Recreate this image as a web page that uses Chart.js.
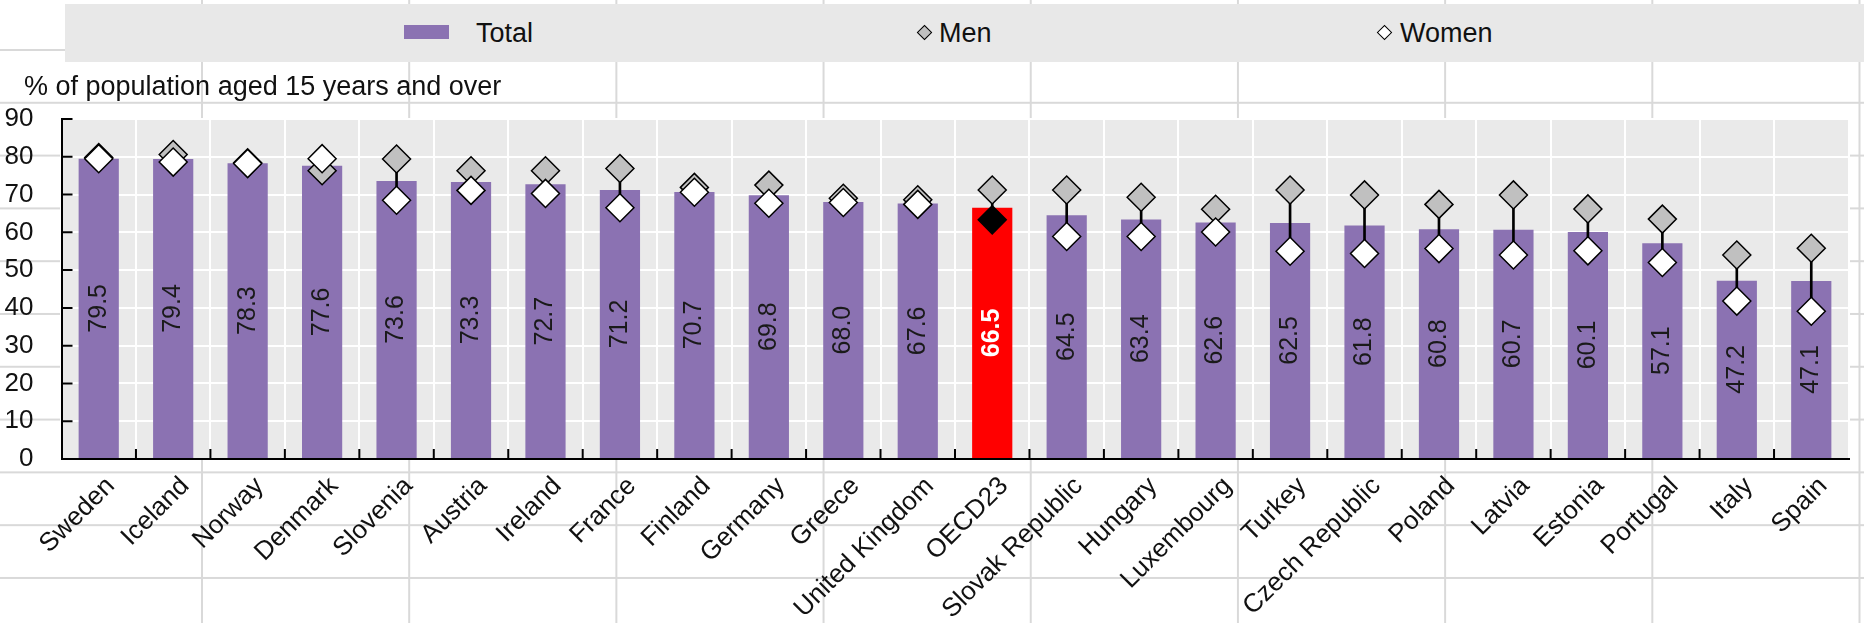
<!DOCTYPE html>
<html>
<head>
<meta charset="utf-8">
<script src="https://cdn.jsdelivr.net/npm/chart.js@4.4.1/dist/chart.umd.min.js"></script>
<style>
  body { margin: 0; background: #fff; }
  #wrap {
    position: relative; width: 1864px; height: 623px; overflow: hidden;
    font-family: 'Liberation Sans', Arial, sans-serif;
    background-image: linear-gradient(to right, #d9d9d9 2px, transparent 2px),
                      linear-gradient(to bottom, #d9d9d9 2px, transparent 2px);
    background-size: 207.2px 100%, 100% 52.8px;
    background-position: 201px 0, 0 49px;
  }
  #chart { position: absolute; left: 0; top: 0; }
  #legend { position: absolute; left: 65px; top: 4px; width: 1799px; height: 58px; background: #e8e8e8; }
  .item { position: absolute; top: 13px; font-size: 27px; line-height: 32px; color: #111; }
  .swatch { position: absolute; top: 21px; width: 45px; height: 14px; background: #8b72b2; }
  .dia { position: absolute; width: 9px; height: 9px; border: 1.5px solid #000; transform: rotate(45deg); }
  #ytitle { position: absolute; left: 24px; top: 70px; font-size: 27px; line-height: 32px; color: #111; white-space: nowrap; }
</style>
</head>
<body>
<div id="wrap">
  <canvas id="chart" width="1864" height="623"></canvas>
  <div id="legend">
    <div class="swatch" style="left:339px"></div>
    <div class="item" style="left:411px">Total</div>
    <div class="dia" style="left:854px; top:23px; background:#c0c0c0"></div>
    <div class="item" style="left:874px">Men</div>
    <div class="dia" style="left:1314px; top:23px; background:#fff"></div>
    <div class="item" style="left:1335px">Women</div>
  </div>
  <div id="ytitle">% of population aged 15 years and over</div>
</div>
<script>
var countries = ["Sweden", "Iceland", "Norway", "Denmark", "Slovenia", "Austria", "Ireland", "France",
    "Finland", "Germany", "Greece", "United Kingdom", "OECD23", "Slovak Republic", "Hungary", "Luxembourg",
    "Turkey", "Czech Republic", "Poland", "Latvia", "Estonia", "Portugal", "Italy", "Spain"];
var total = [79.5, 79.4, 78.3, 77.6, 73.6, 73.3, 72.7, 71.2, 70.7, 69.8, 68.0, 67.6,
    66.5, 64.5, 63.4, 62.6, 62.5, 61.8, 60.8, 60.7, 60.1, 57.1, 47.2, 47.1];
var men = [79.8, 80.6, 78.4, 76.3, 79.4, 76.3, 76.3, 76.9, 71.9, 72.5, 69.0, 68.6,
    71.2, 71.2, 69.3, 66.1, 71.2, 69.9, 67.4, 69.9, 66.2, 63.5, 54.0, 55.8];
var women = [79.5, 78.6, 78.2, 79.5, 68.5, 71.1, 70.3, 66.5, 70.6, 67.7, 67.9, 67.4,
    63.3, 58.9, 58.9, 60.1, 55.0, 54.4, 55.7, 54.0, 55.1, 52.0, 41.8, 39.1];
var yTicks = [0, 10, 20, 30, 40, 50, 60, 70, 80, 90];
var highlight = "OECD23";

var FONT = "'Liberation Sans', Arial, sans-serif";

var barColors = countries.map(function (c) { return c === highlight ? "#ff0000" : "#8b72b2"; });
var womenColors = countries.map(function (c) { return c === highlight ? "#000000" : "#ffffff"; });
var ranges = countries.map(function (c, i) { return [women[i], men[i]]; });

var plotBg = {
    id: "plotBg",
    beforeDraw: function (chart) {
        var a = chart.chartArea, c = chart.ctx;
        c.save();
        c.fillStyle = "#eaeaea";
        c.fillRect(a.left, a.top, a.right - a.left, a.bottom - a.top);
        c.restore();
    }
};

var barLabels = {
    id: "barLabels",
    afterDatasetsDraw: function (chart) {
        var c = chart.ctx;
        var meta = chart.getDatasetMeta(3);
        c.save();
        c.textAlign = "center";
        c.textBaseline = "middle";
        meta.data.forEach(function (bar, i) {
            var hi = countries[i] === highlight;
            c.save();
            c.translate(bar.x, (bar.y + bar.base) / 2);
            c.rotate(-Math.PI / 2);
            c.font = (hi ? "bold " : "") + "25px " + FONT;
            c.fillStyle = hi ? "#ffffff" : "#1a1a1a";
            c.fillText(total[i].toFixed(1), 0, 0);
            c.restore();
        });
        c.restore();
    }
};

var innerTicks = {
    id: "innerTicks",
    afterDraw: function (chart) {
        var c = chart.ctx, a = chart.chartArea, x = chart.scales.x, y = chart.scales.y;
        c.save();
        c.strokeStyle = "#000";
        c.lineWidth = 2;
        c.beginPath();
        yTicks.forEach(function (v) {
            var py = y.getPixelForValue(v);
            c.moveTo(a.left, py);
            c.lineTo(a.left + 11, py);
        });
        for (var i = 1; i < countries.length; i++) {
            var px = (x.getPixelForValue(i - 1) + x.getPixelForValue(i)) / 2;
            c.moveTo(px, a.bottom);
            c.lineTo(px, a.bottom - 10);
        }
        c.moveTo(a.left, a.bottom);
        c.lineTo(a.right, a.bottom);
        c.stroke();
        c.restore();
    }
};

var ctx = document.getElementById("chart").getContext("2d");
var myChart = new Chart(ctx, {
    type: "bar",
    data: {
        labels: countries,
        datasets: [{
            type: "line",
            label: "Women",
            data: women,
            showLine: false,
            pointStyle: "rectRot",
            pointRadius: 14,
            pointBackgroundColor: womenColors,
            pointBorderColor: "#000",
            pointBorderWidth: 1.5,
            order: 0
        }, {
            type: "line",
            label: "Men",
            data: men,
            showLine: false,
            pointStyle: "rectRot",
            pointRadius: 14,
            pointBackgroundColor: "#c0c0c0",
            pointBorderColor: "#000",
            pointBorderWidth: 1.5,
            order: 1
        }, {
            label: "range",
            data: ranges,
            backgroundColor: "#000",
            barThickness: 2,
            grouped: false,
            order: 2
        }, {
            label: "Total",
            data: total,
            backgroundColor: barColors,
            categoryPercentage: 0.54,
            barPercentage: 1,
            order: 3
        }]
    },
    options: {
        responsive: false,
        animation: false,
        layout: { padding: { top: 119, right: 0, left: 0, bottom: 0 } },
        plugins: { legend: { display: false }, tooltip: { enabled: false } },
        scales: {
            x: {
                offset: true,
                grid: { color: "#ffffff", lineWidth: 2, offset: true, drawTicks: false },
                border: { color: "#000", width: 2 },
                ticks: {
                    font: { family: FONT, size: 26 },
                    color: "#111",
                    minRotation: 45,
                    maxRotation: 45,
                    autoSkip: false,
                    padding: 12,
                    labelOffset: 12
                },
                afterFit: function (scale) { scale.height = 164; }
            },
            y: {
                min: 0,
                max: 90,
                afterBuildTicks: function (scale) {
                    scale.ticks = yTicks.map(function (v) { return { value: v }; });
                },
                grid: { color: "#ffffff", lineWidth: 2, drawTicks: false },
                border: { color: "#000", width: 2 },
                ticks: {
                    font: { family: FONT, size: 26 },
                    color: "#111",
                    autoSkip: false,
                    padding: 28
                },
                afterFit: function (scale) { scale.width = 61.5; }
            }
        }
    },
    plugins: [plotBg, barLabels, innerTicks]
});
</script>
</body>
</html>
